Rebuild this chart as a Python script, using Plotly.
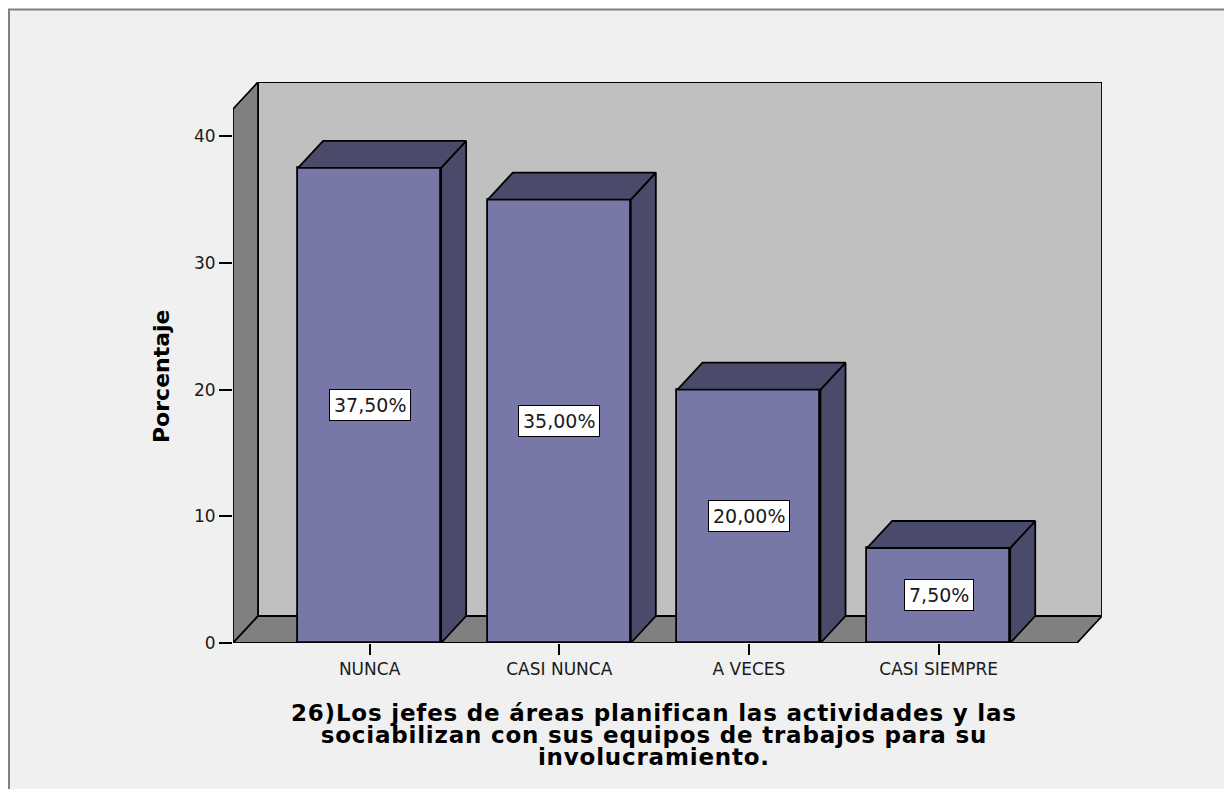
import plotly.graph_objects as go

# Datos del gráfico
categorias = ["NUNCA", "CASI NUNCA", "A VECES", "CASI SIEMPRE"]
porcentajes = [37.5, 35.0, 20.0, 7.5]
marcas_y = [0, 10, 20, 30, 40]
titulo_eje_x = [
    "26)Los jefes de áreas planifican las actividades y las",
    "sociabilizan con sus equipos de trabajos para su",
    "involucramiento.",
]
etiquetas = [f"{v:.2f}".replace(".", ",") + "%" for v in porcentajes]

# Geometría de la figura (píxeles)
W, H = 1224, 789
PX_L, PX_R, PX_T, PX_B = 233, 1102, 82, 643

# Escala de datos y profundidad del efecto 3D
X_MIN, X_MAX = -0.72, 3.861
Y_MAX = 44.28
DX, DY = 0.132, 2.13
BAR_W = 0.754

C_FRENTE = "#7878a8"
C_OSCURO = "#4a4a6a"
C_PARED = "#c0c0c0"
C_SUELO = "#808080"
C_FONDO = "#f0f0f0"
LW = 1.8
FUENTE = "DejaVu Sans"

fig = go.Figure()

# Caras superior y lateral de cada barra
for i, v in enumerate(porcentajes):
    x0, x1 = i - BAR_W / 2, i + BAR_W / 2
    fig.add_trace(go.Scatter(
        x=[x1, x1, x1 + DX, x1 + DX, x1],
        y=[0, v, v + DY, DY, 0],
        mode="lines", fill="toself", fillcolor=C_OSCURO,
        line=dict(color="black", width=LW), hoverinfo="skip", showlegend=False,
    ))
    fig.add_trace(go.Scatter(
        x=[x0, x1, x1 + DX, x0 + DX, x0],
        y=[v, v, v + DY, v + DY, v],
        mode="lines", fill="toself", fillcolor=C_OSCURO,
        line=dict(color="black", width=LW), hoverinfo="skip", showlegend=False,
    ))

# Cara frontal de las barras
fig.add_trace(go.Bar(
    x=list(range(len(categorias))), y=porcentajes, width=BAR_W,
    marker=dict(color=C_FRENTE, line=dict(color="black", width=LW)),
    hoverinfo="skip", showlegend=False,
))

def poly(pts):
    return "M " + " L ".join(f"{x},{y}" for x, y in pts) + " Z"

shapes = [
    # marco del gráfico
    dict(type="rect", xref="paper", yref="paper",
         x0=9 / W, x1=1.05, y0=-0.05, y1=(H - 9.5) / H,
         fillcolor=C_FONDO, line=dict(color="#808080", width=2), layer="below"),
    # pared del fondo
    dict(type="path", xref="x", yref="y",
         path=poly([(X_MIN + DX, DY), (X_MIN + DX, Y_MAX), (X_MAX, Y_MAX), (X_MAX, DY)]),
         fillcolor=C_PARED, line=dict(color="black", width=LW), layer="below"),
    # pared izquierda
    dict(type="path", xref="x", yref="y",
         path=poly([(X_MIN, 0), (X_MIN, Y_MAX - DY), (X_MIN + DX, Y_MAX), (X_MIN + DX, DY)]),
         fillcolor=C_SUELO, line=dict(color="black", width=LW), layer="below"),
    # suelo
    dict(type="path", xref="x", yref="y",
         path=poly([(X_MIN, 0), (X_MAX - DX, 0), (X_MAX, DY), (X_MIN + DX, DY)]),
         fillcolor=C_SUELO, line=dict(color="black", width=LW), layer="below"),
]

annotations = []
for i, v in enumerate(porcentajes):
    annotations.append(dict(
        x=i, y=v / 2, xref="x", yref="y", text=etiquetas[i], showarrow=False,
        xanchor="center", yanchor="middle",
        font=dict(family=FUENTE, size=19, color="#1a1a1a"),
        bgcolor="white", bordercolor="black", borderwidth=1, borderpad=4,
    ))

annotations.append(dict(
    x=161 / W, y=(H - 376) / H, xref="paper", yref="paper",
    xanchor="center", yanchor="middle",
    text="<b>Porcentaje</b>", textangle=-90, showarrow=False,
    font=dict(family=FUENTE, size=22, color="black"),
))

# Título del eje X: interlineado compacto (tamaño base 17 px, glifos de 23 px)
titulo_html = "<br>".join(
    f"<span style='font-size:23px;letter-spacing:0.8px'><b>{linea}</b></span>"
    for linea in titulo_eje_x
)
annotations.append(dict(
    x=654 / W, y=(H - 735) / H, xref="paper", yref="paper",
    xanchor="center", yanchor="middle", align="center",
    text=titulo_html, showarrow=False,
    font=dict(family=FUENTE, size=17, color="black"),
))

fig.update_layout(
    width=W, height=H,
    margin=dict(l=0, r=0, t=0, b=0, autoexpand=False),
    paper_bgcolor="white", plot_bgcolor="rgba(0,0,0,0)",
    shapes=shapes, annotations=annotations,
    bargap=0,
    xaxis=dict(
        domain=[PX_L / W, PX_R / W], range=[X_MIN, X_MAX],
        tickvals=list(range(len(categorias))), ticktext=categorias,
        ticks="outside", ticklen=11, tickwidth=1.5, tickcolor="black",
        showgrid=False, zeroline=False, showline=False,
        tickfont=dict(family=FUENTE, size=17, color="#1a1a1a"),
        fixedrange=True, automargin=False,
    ),
    yaxis=dict(
        domain=[(H - PX_B) / H, (H - PX_T) / H], range=[0, Y_MAX],
        tickvals=marcas_y,
        ticks="outside", ticklen=13, tickwidth=2, tickcolor="black",
        showgrid=False, zeroline=False, showline=False,
        tickfont=dict(family=FUENTE, size=17, color="#1a1a1a"),
        fixedrange=True, automargin=False,
    ),
)

fig.write_html("out.html")
